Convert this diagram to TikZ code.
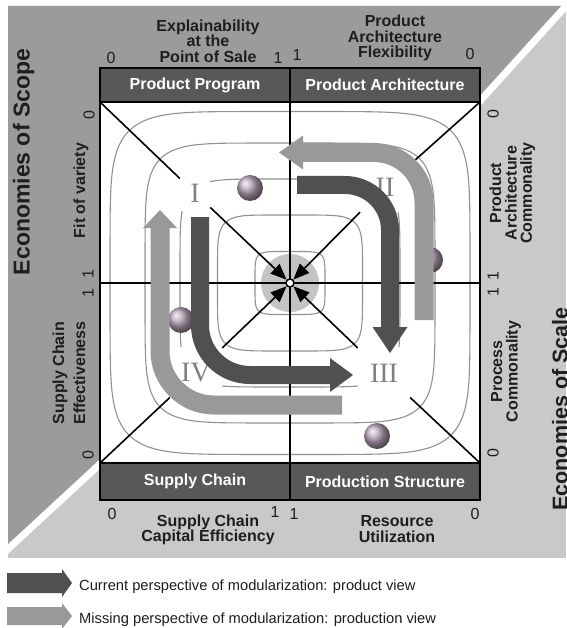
\documentclass[tikz,border=0pt]{standalone}
\usepackage{fontspec}
\setmainfont{Liberation Sans}
\newfontfamily\numfont{Liberation Serif}
\usetikzlibrary{arrows.meta}
\definecolor{bgdark}{RGB}{155,155,155}
\definecolor{bglight}{RGB}{201,201,201}
\definecolor{hdr}{RGB}{88,88,88}
\definecolor{arrdark}{RGB}{80,80,80}
\definecolor{arrlight}{RGB}{153,153,153}
\definecolor{contourc}{RGB}{145,145,145}
\definecolor{discc}{RGB}{196,196,196}
\definecolor{numc}{RGB}{128,128,128}
\definecolor{ballc}{RGB}{185,165,185}
\definecolor{txt}{RGB}{30,30,30}
\newcommand\mylsl{\lineskiplimit-20pt\relax}
\begin{document}
\begin{tikzpicture}[x=1pt,y=-1pt,
  hdrbox/.style={draw=black,line width=1.6pt,fill=hdr,text=white,inner sep=0pt,
    font=\fontsize{16}{16}\selectfont\bfseries},
  axlabel/.style={font=\fontsize{16}{15.3}\selectfont\bfseries\mylsl,align=center,text=txt,inner sep=0pt},
  axnum/.style={font=\fontsize{16}{16}\selectfont,text=txt,inner sep=0pt},
  bigtitle/.style={font=\fontsize{23}{23}\selectfont\bfseries,text=txt,inner sep=0pt},
  contour/.style={draw=contourc,line width=1.1pt},
  axisline/.style={draw=black,line width=1.6pt},
  diag/.style={draw=black,line width=1.6pt},
  numeral/.style={font=\numfont\fontsize{28}{28}\selectfont,text=numc,fill=white,inner sep=0pt},
  darkarr/.style={draw=arrdark,line width=18pt},
  lightarr/.style={draw=arrlight,line width=19pt},
  ballnode/.style={circle,ball color=ballc,minimum size=26pt,inner sep=0pt},
  legtext/.style={font=\fontsize{14.7}{15}\selectfont,text=txt,anchor=base west,inner sep=0pt},
  tip/.style={-{Triangle[length=16pt,width=13pt]}},
]
\useasboundingbox (0,0) rectangle (566,628);
\fill[white] (0,0) rectangle (566,628);
% background triangles
\fill[bglight] (8,6) rectangle (566,558);
\fill[bgdark] (8,6) -- (566,6) -- (480,101) -- (100,464) -- (8,549) -- cycle;
\draw[white,line width=7pt,line join=round] (570.5,1) -- (480,101) -- (100,464) -- (3.3,553.4);
% plot area
\fill[white] (100,102) rectangle (480,463);
\begin{scope}
  \clip (100,102) rectangle (480,463);
  \foreach \a/\b in {35/31.5, 72.5/68, 110/104, 145/140, 180/171.5}{
    \draw[contour] plot[domain=1:361, samples=181, variable=\t]
      ({290+\a*cos(\t)/abs(cos(\t))^(2/3)}, {283+\b*sin(\t)/abs(sin(\t))^(2/3)});
  }
\end{scope}
\node[circle,fill=discc,minimum size=58pt,inner sep=0pt] (disc) at (290,283) {};
\draw[axisline] (290,102) -- (290,463);
\draw[axisline] (100,283) -- (480,283);
\draw[line width=1.8pt] (100,102) rectangle (480,463);
% header and footer bars
\node[hdrbox,minimum width=190pt,minimum height=34pt] (hPP) at (195,85) {Product Program};
\node[hdrbox,minimum width=190pt,minimum height=34pt] (hPA) at (385,85) {Product Architecture};
\node[hdrbox,minimum width=190pt,minimum height=37pt] (hSC) at (195,481.5) {Supply Chain};
\node[hdrbox,minimum width=190pt,minimum height=37pt] (hPS) at (385,481.5) {Production Structure};
% centre
\node[circle,draw=black,fill=white,line width=1.5pt,minimum size=8pt,inner sep=0pt] (ctr) at (290,283) {};
\coordinate (cUL) at (100,102);
\coordinate (cUR) at (480,102);
\coordinate (cLR) at (480,463);
\coordinate (cLL) at (100,463);
\node[numeral,minimum width=30pt,minimum height=36pt] (nI) at (195,193) {I};
\node[numeral,minimum width=50pt,minimum height=50pt] (nII) at (385,187) {II};
\node[numeral,minimum width=52pt,minimum height=52pt] (nIII) at (384,373) {III};
\node[numeral,minimum width=52pt,minimum height=52pt] (nIV) at (196,373) {IV};
\draw[diag] (cUL) -- (nI);
\draw[diag] (cUR) -- (nII);
\draw[diag] (cLR) -- (nIII);
\draw[diag] (cLL) -- (nIV);
\draw[diag,tip] (nI) -- (ctr);
\draw[diag,tip] (nII) -- (ctr);
\draw[diag,tip] (nIII) -- (ctr);
\draw[diag,tip] (nIV) -- (ctr);
% balls
\node[ballnode] (b1) at (250,188) {};
\node[ballnode] (b2) at (430,260) {};
\node[ballnode] (b3) at (181,320) {};
\node[ballnode] (b4) at (377,436) {};
% big arrows
\draw[darkarr,rounded corners=45pt] (297,185) -- (390,185) -- (390,327);
\fill[arrdark] (372.5,327) -- (407.5,327) -- (390,353) -- cycle;
\draw[lightarr,rounded corners=50pt] (424,320) -- (424,152.5) -- (303,152.5);
\fill[arrlight] (303,135.5) -- (303,169.5) -- (279,152.5) -- cycle;
\draw[darkarr,rounded corners=50pt] (200,217) -- (200,375) -- (330,375);
\fill[arrdark] (330,358) -- (330,392) -- (353,375) -- cycle;
\draw[lightarr,rounded corners=54pt] (342,405) -- (160,405) -- (160,228);
\fill[arrlight] (143,228) -- (177,228) -- (160,210) -- cycle;
% axis labels
\node[axlabel] (lTL) at (208,41) {Explainability\\at the\\Point of Sale};
\node[axlabel] (lTR) at (395,38) {Product\\Architecture\\Flexibility};
\node[axlabel] (lBL) at (208,530) {Supply Chain\\Capital Efficiency};
\node[axlabel] (lBR) at (397,529) {Resource\\Utilization};
\node[axlabel,rotate=90,anchor=base] (lFV) at (85,190.5) {Fit of variety};
\node[axlabel,rotate=90,font=\fontsize{16}{21}\selectfont\bfseries] (lSCE) at (69,373) {Supply Chain\\Effectiveness};
\node[axlabel,rotate=90] (lPAC) at (512.4,193) {Product\\Architecture\\Commonality};
\node[axlabel,rotate=90] (lPC) at (506,371.5) {Process\\Commonality};
% axis numbers
\node[axnum] (nT1) at (111,58) {0};
\node[axnum] (nT2) at (278,58) {1};
\node[axnum] (nT3) at (297,55) {1};
\node[axnum] (nT4) at (470,54) {0};
\node[axnum] (nB1) at (112,514) {0};
\node[axnum] (nB2) at (275,512) {1};
\node[axnum] (nB3) at (294,514) {1};
\node[axnum] (nB4) at (475,514) {0};
\node[axnum,rotate=90] (nL1) at (89,115) {0};
\node[axnum,rotate=90] (nL2) at (88,274) {1};
\node[axnum,rotate=90] (nL3) at (88,293) {1};
\node[axnum,rotate=90] (nL4) at (88,455) {0};
\node[axnum,rotate=90] (nR1) at (493,114) {0};
\node[axnum,rotate=90] (nR2) at (493,276) {1};
\node[axnum,rotate=90] (nR3) at (493,292) {1};
\node[axnum,rotate=90] (nR4) at (493,453) {0};
% big titles
\node[bigtitle,rotate=90,anchor=base] (eScope) at (29.5,162) {Economies of Scope};
\node[bigtitle,rotate=90,anchor=base,font=\fontsize{21.5}{21.5}\selectfont\bfseries] (eScale) at (567.5,409) {Economies of Scale};
% legend
\fill[arrdark] (7,573) -- (62,573) -- (62,569) -- (72,583) -- (62,597) -- (62,593) -- (7,593) -- cycle;
\fill[arrlight] (7,607) -- (62,607) -- (62,603) -- (72,616) -- (62,629) -- (62,625) -- (7,625) -- cycle;
\node[legtext] (leg1) at (79,590) {Current perspective of modularization: product view};
\node[legtext] (leg2) at (79,623) {Missing perspective of modularization: production view};
\end{tikzpicture}
\end{document}
